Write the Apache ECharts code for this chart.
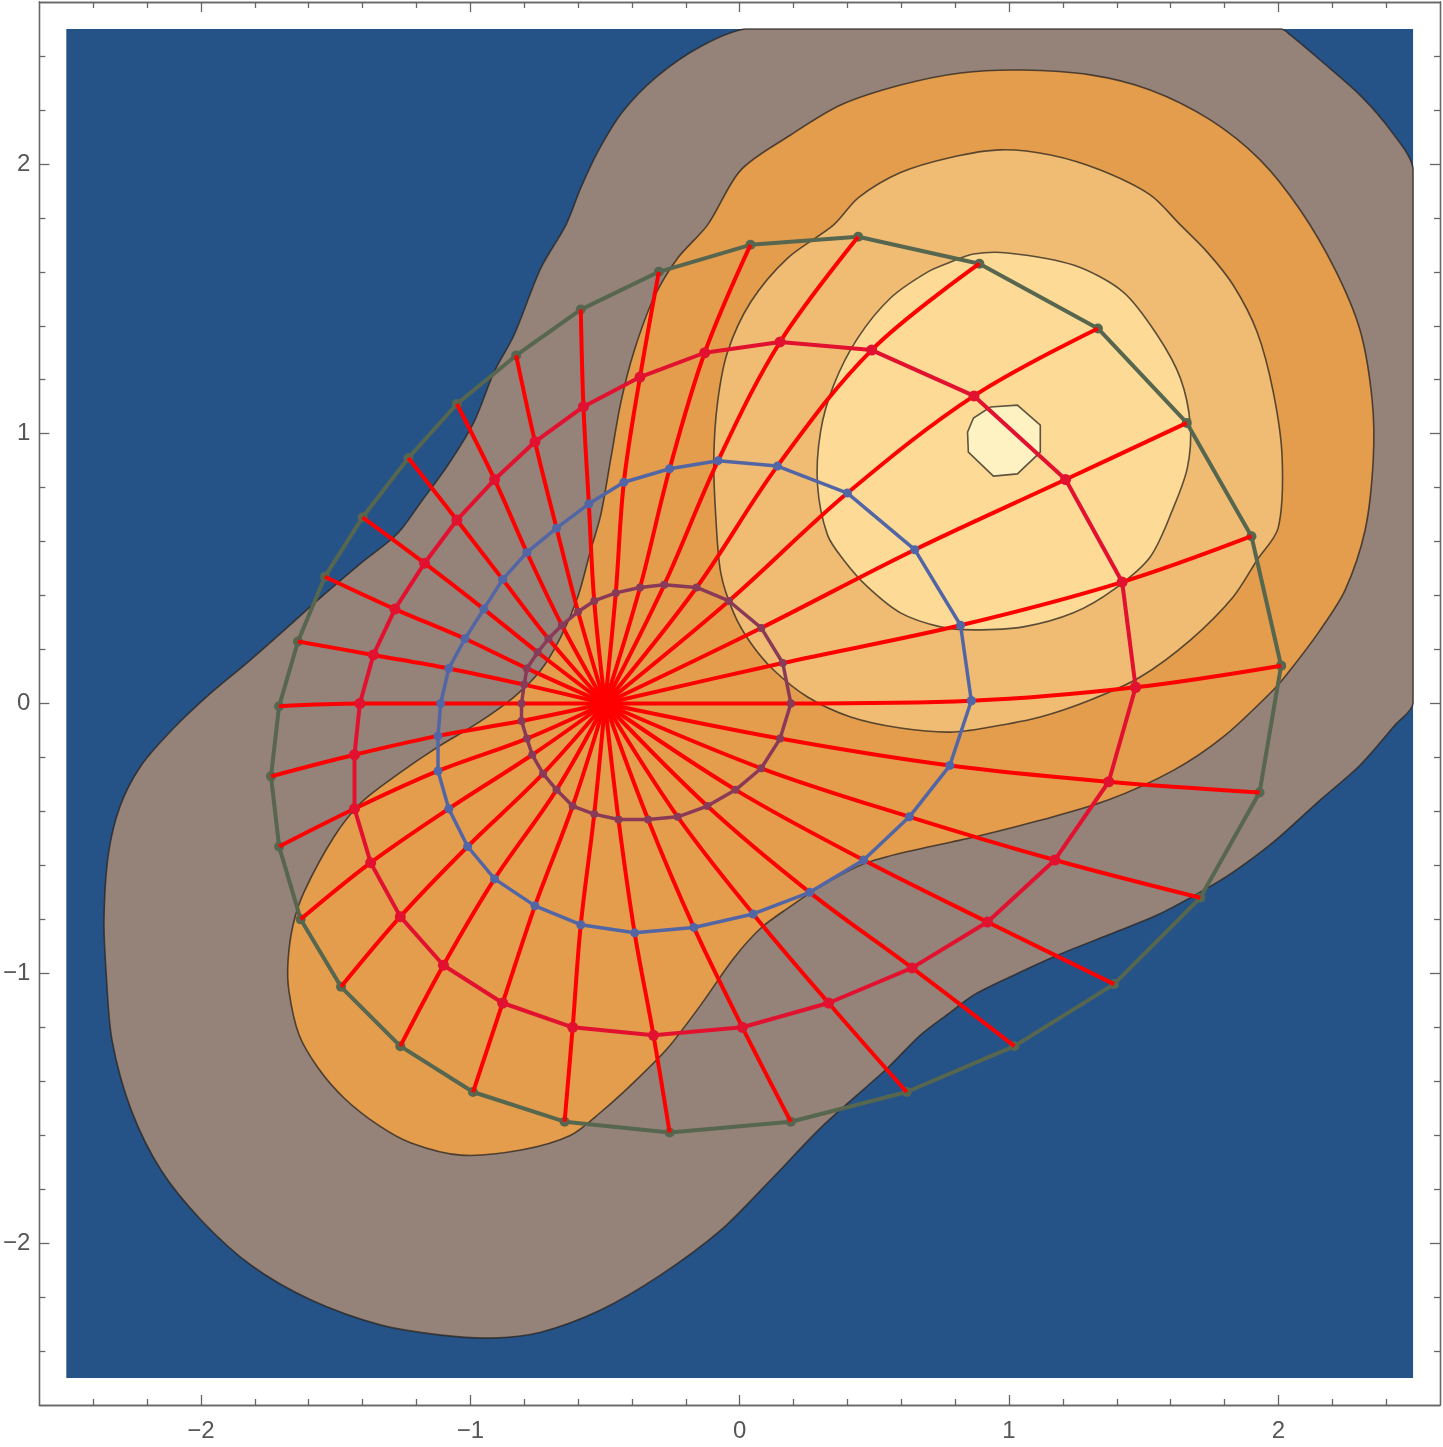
<!DOCTYPE html>
<html>
<head>
<meta charset="utf-8">
<script src="https://cdn.jsdelivr.net/npm/echarts@6/dist/echarts.min.js"></script>
<style>html,body{margin:0;padding:0;background:#fff}#c{width:1443px;height:1447px}</style>
</head>
<body>
<div id="c"></div>
<script>
// ---- data (data units) ----
const plotRange = [-2.5, 2.5];
const majorTicks = [-2, -1, 0, 1, 2];
const minorTicks = [-2.4,-2.2,-1.8,-1.6,-1.4,-1.2,-0.8,-0.6,-0.4,-0.2,0.2,0.4,0.6,0.8,1.2,1.4,1.6,1.8,2.2,2.4];
const center = [-0.5, 0];

const ringPurple = [[0.19,0.00],[0.16,0.15],[0.08,0.28],[-0.04,0.38],[-0.16,0.43],[-0.28,0.44],[-0.37,0.43],[-0.46,0.41],[-0.54,0.38],[-0.60,0.34],[-0.66,0.29],[-0.71,0.24],[-0.75,0.19],[-0.79,0.13],[-0.80,0.07],[-0.81,0.00],[-0.81,-0.065],[-0.79,-0.13],[-0.77,-0.19],[-0.73,-0.26],[-0.68,-0.32],[-0.62,-0.38],[-0.54,-0.41],[-0.45,-0.43],[-0.34,-0.43],[-0.23,-0.42],[-0.12,-0.38],[-0.015,-0.32],[0.08,-0.24],[0.15,-0.13]];
const ringBlue = [[0.86,0.01],[0.82,0.29],[0.65,0.57],[0.40,0.78],[0.14,0.88],[-0.08,0.90],[-0.26,0.87],[-0.43,0.82],[-0.56,0.74],[-0.68,0.65],[-0.79,0.56],[-0.88,0.46],[-0.95,0.35],[-1.02,0.24],[-1.08,0.13],[-1.11,0.00],[-1.12,-0.12],[-1.12,-0.25],[-1.08,-0.39],[-1.01,-0.53],[-0.91,-0.65],[-0.76,-0.75],[-0.59,-0.82],[-0.39,-0.85],[-0.17,-0.83],[0.05,-0.78],[0.26,-0.70],[0.46,-0.58],[0.63,-0.42],[0.78,-0.23]];
const ringRed = [[1.47,0.06],[1.42,0.45],[1.21,0.83],[0.87,1.14],[0.49,1.31],[0.15,1.34],[-0.13,1.30],[-0.37,1.21],[-0.58,1.10],[-0.76,0.97],[-0.91,0.83],[-1.05,0.68],[-1.17,0.52],[-1.28,0.35],[-1.36,0.18],[-1.41,0.00],[-1.43,-0.19],[-1.43,-0.39],[-1.37,-0.59],[-1.26,-0.79],[-1.10,-0.97],[-0.88,-1.11],[-0.62,-1.20],[-0.32,-1.23],[0.01,-1.20],[0.33,-1.11],[0.64,-0.98],[0.92,-0.81],[1.17,-0.58],[1.37,-0.29]];
const ringGreen = [[2.01,0.14],[1.90,0.62],[1.66,1.04],[1.33,1.39],[0.89,1.63],[0.44,1.73],[0.04,1.70],[-0.30,1.60],[-0.59,1.46],[-0.83,1.29],[-1.05,1.11],[-1.23,0.91],[-1.40,0.69],[-1.54,0.47],[-1.64,0.23],[-1.71,-0.01],[-1.74,-0.27],[-1.71,-0.53],[-1.63,-0.80],[-1.48,-1.05],[-1.26,-1.27],[-0.99,-1.44],[-0.65,-1.55],[-0.26,-1.59],[0.19,-1.55],[0.62,-1.44],[1.02,-1.27],[1.39,-1.04],[1.71,-0.72],[1.93,-0.33]];

const contourGray = [[0.022,2.5],[-0.145,2.435],[-0.312,2.32],[-0.434,2.194],[-0.523,2.052],[-0.59,1.911],[-0.645,1.774],[-0.738,1.614],[-0.838,1.365],[-0.912,1.228],[-0.987,1.042],[-1.083,0.884],[-1.183,0.747],[-1.27,0.63],[-1.406,0.52],[-1.554,0.394],[-1.703,0.261],[-1.83,0.15],[-1.962,0.04],[-2.1,-0.09],[-2.222,-0.23],[-2.3,-0.38],[-2.344,-0.56],[-2.36,-0.8],[-2.352,-1.0],[-2.33,-1.25],[-2.259,-1.507],[-2.148,-1.73],[-1.999,-1.915],[-1.814,-2.082],[-1.591,-2.211],[-1.332,-2.304],[-1.109,-2.341],[-0.924,-2.352],[-0.738,-2.33],[-0.516,-2.248],[-0.293,-2.118],[-0.07,-1.952],[0.115,-1.766],[0.312,-1.562],[0.549,-1.351],[0.671,-1.229],[0.783,-1.144],[0.868,-1.081],[0.994,-1.018],[1.18,-0.933],[1.365,-0.859],[1.55,-0.784],[1.71,-0.699],[1.832,-0.625],[1.981,-0.514],[2.155,-0.358],[2.303,-0.229],[2.433,-0.08],[2.5,0.0],[2.5,0.5],[2.5,1.0],[2.5,1.5],[2.5,1.983],[2.415,2.126],[2.303,2.255],[2.155,2.385],[2.044,2.478],[2.01,2.5],[1.5,2.5],[1.0,2.5],[0.5,2.5]];
const contourOrange = [[-0.119,1.774],[-0.23,1.651],[-0.319,1.503],[-0.393,1.303],[-0.441,1.117],[-0.478,0.91],[-0.516,0.698],[-0.553,0.569],[-0.601,0.395],[-0.664,0.247],[-0.738,0.124],[-0.838,0.024],[-0.972,-0.072],[-1.12,-0.161],[-1.283,-0.272],[-1.406,-0.368],[-1.506,-0.494],[-1.617,-0.698],[-1.658,-0.82],[-1.677,-0.958],[-1.673,-1.069],[-1.636,-1.228],[-1.565,-1.351],[-1.469,-1.462],[-1.343,-1.562],[-1.22,-1.629],[-1.035,-1.674],[-0.812,-1.655],[-0.627,-1.6],[-0.516,-1.515],[-0.393,-1.404],[-0.267,-1.277],[-0.145,-1.118],[-0.022,-0.944],[0.078,-0.833],[0.178,-0.759],[0.289,-0.685],[0.449,-0.599],[0.597,-0.555],[0.783,-0.514],[0.868,-0.496],[1.116,-0.433],[1.365,-0.359],[1.61,-0.248],[1.795,-0.124],[1.981,0.05],[2.044,0.124],[2.155,0.272],[2.248,0.421],[2.322,0.643],[2.352,0.902],[2.348,1.125],[2.303,1.384],[2.211,1.607],[2.081,1.829],[1.932,2.015],[1.747,2.163],[1.524,2.274],[1.302,2.33],[1.042,2.348],[0.82,2.337],[0.597,2.292],[0.375,2.218],[0.189,2.107],[0.004,1.977]];
const contourLight = [[0.349,1.774],[0.178,1.651],[0.041,1.488],[-0.045,1.303],[-0.082,1.117],[-0.096,0.91],[-0.089,0.698],[-0.07,0.483],[-0.022,0.335],[0.041,0.224],[0.126,0.124],[0.252,0.024],[0.412,-0.05],[0.597,-0.091],[0.783,-0.106],[0.931,-0.087],[1.116,-0.05],[1.302,0.013],[1.487,0.098],[1.673,0.235],[1.832,0.395],[1.921,0.532],[1.999,0.65],[2.014,0.91],[1.981,1.154],[1.921,1.377],[1.832,1.551],[1.736,1.673],[1.636,1.774],[1.524,1.885],[1.339,1.977],[1.154,2.033],[0.968,2.052],[0.783,2.024],[0.597,1.968],[0.441,1.875]];
const contourPale = [[0.994,1.67],[1.239,1.625],[1.424,1.525],[1.55,1.366],[1.636,1.206],[1.673,1.032],[1.662,0.873],[1.61,0.725],[1.524,0.543],[1.387,0.421],[1.239,0.336],[1.053,0.284],[0.868,0.273],[0.746,0.284],[0.597,0.336],[0.475,0.432],[0.386,0.532],[0.326,0.625],[0.289,0.81],[0.3,1.006],[0.349,1.18],[0.438,1.354],[0.56,1.503],[0.697,1.599],[0.783,1.636],[0.868,1.666]];
const contourPeak = [[0.931,1.099],[1.031,1.106],[1.116,1.032],[1.116,0.932],[1.031,0.851],[0.942,0.843],[0.849,0.932],[0.846,1.006],[0.868,1.058]];

// ---- styles ----
const C = {
  bg: '#255388', gray: '#958279', orange: '#E39D4D', light: '#F0BC73', pale: '#FDDA95', peak: '#FEF2C2',
  contourLine: 'rgba(40,35,30,0.75)',
  ray: '#FF0000', purple: '#8A3A56', blue: '#5266A6', red: '#E2112F', green: '#56664F',
  axis: '#666666', label: '#555555'
};

function polygonSeries(points, fill, smooth, z) {
  return {
    type: 'custom', coordinateSystem: 'cartesian2d', silent: true, z: z, clip: false,
    data: [[points[0][0], points[0][1]]],
    renderItem: function (params, api) {
      const lo = api.coord([plotRange[0], plotRange[1]]);
      const hi = api.coord([plotRange[1], plotRange[0]]);
      return {
        type: 'polygon',
        shape: {
          points: points.map(function (p) { return api.coord(p); }),
          smooth: smooth,
          smoothConstraint: [lo, hi]
        },
        style: { fill: fill, stroke: C.contourLine, lineWidth: 1.6 }
      };
    }
  };
}

const bgSeries = {
  type: 'custom', coordinateSystem: 'cartesian2d', silent: true, z: 0,
  data: [[plotRange[0], plotRange[1]]],
  renderItem: function (params, api) {
    const a = api.coord([plotRange[0], plotRange[1]]);
    const b = api.coord([plotRange[1], plotRange[0]]);
    return { type: 'rect', shape: { x: a[0], y: a[1], width: b[0] - a[0], height: b[1] - a[1] }, style: { fill: C.bg } };
  }
};

function ringSeries(ring, color, size, width, z) {
  return {
    type: 'line', xAxisIndex: 0, yAxisIndex: 0, z: z, silent: true,
    data: ring.concat([ring[0]]),
    symbol: 'circle', symbolSize: size, showSymbol: true,
    itemStyle: { color: color },
    lineStyle: { color: color, width: width }
  };
}

const raySeries = ringGreen.map(function (g, k) {
  return {
    type: 'line', xAxisIndex: 0, yAxisIndex: 0, z: 3, silent: true,
    data: [center, ringPurple[k], ringBlue[k], ringRed[k], g],
    smooth: 0.35, symbol: 'none',
    lineStyle: { color: C.ray, width: 4 }
  };
});

function fmt(v) { return v < 0 ? '\u2212' + Math.abs(v) : String(v); }
const axisLineStyle = { color: C.axis, width: 1.3 };
function makeAxis(pos, ticks, len, label) {
  return {
    type: 'value', position: pos, min: -2.6, max: 2.6,
    axisLine: { show: true, onZero: false, lineStyle: axisLineStyle },
    axisTick: { show: true, inside: true, length: len, customValues: ticks, lineStyle: axisLineStyle },
    axisLabel: label ? { show: true, customValues: ticks, formatter: fmt, fontSize: 24, color: C.label,
      fontFamily: 'Liberation Sans, Arial, sans-serif', margin: (pos === 'bottom' ? 14 : 9) } : { show: false },
    splitLine: { show: false }
  };
}

const option = {
  animation: false,
  backgroundColor: '#ffffff',
  grid: { left: 38, right: 3, top: 2, bottom: 42, containLabel: false },
  xAxis: [
    makeAxis('bottom', majorTicks, 10, true),
    makeAxis('bottom', minorTicks, 6, false),
    makeAxis('top', majorTicks, 10, false),
    makeAxis('top', minorTicks, 6, false)
  ],
  yAxis: [
    makeAxis('left', majorTicks, 10, true),
    makeAxis('left', minorTicks, 6, false),
    makeAxis('right', majorTicks, 10, false),
    makeAxis('right', minorTicks, 6, false)
  ],
  series: [
    bgSeries,
    polygonSeries(contourGray, C.gray, 0.3, 1),
    polygonSeries(contourOrange, C.orange, 0.3, 1),
    polygonSeries(contourLight, C.light, 0.3, 1),
    polygonSeries(contourPale, C.pale, 0.3, 1),
    polygonSeries(contourPeak, C.peak, 0, 1),
    ringSeries(ringGreen, C.green, 10, 4, 2)
  ].concat(raySeries).concat([
    ringSeries(ringPurple, C.purple, 8, 3.5, 4),
    ringSeries(ringBlue, C.blue, 9, 3.5, 4),
    ringSeries(ringRed, C.red, 11, 4, 5)
  ])
};

const chart = echarts.init(document.getElementById('c'), null, { renderer: 'canvas' });
chart.setOption(option);
</script>
</body>
</html>
